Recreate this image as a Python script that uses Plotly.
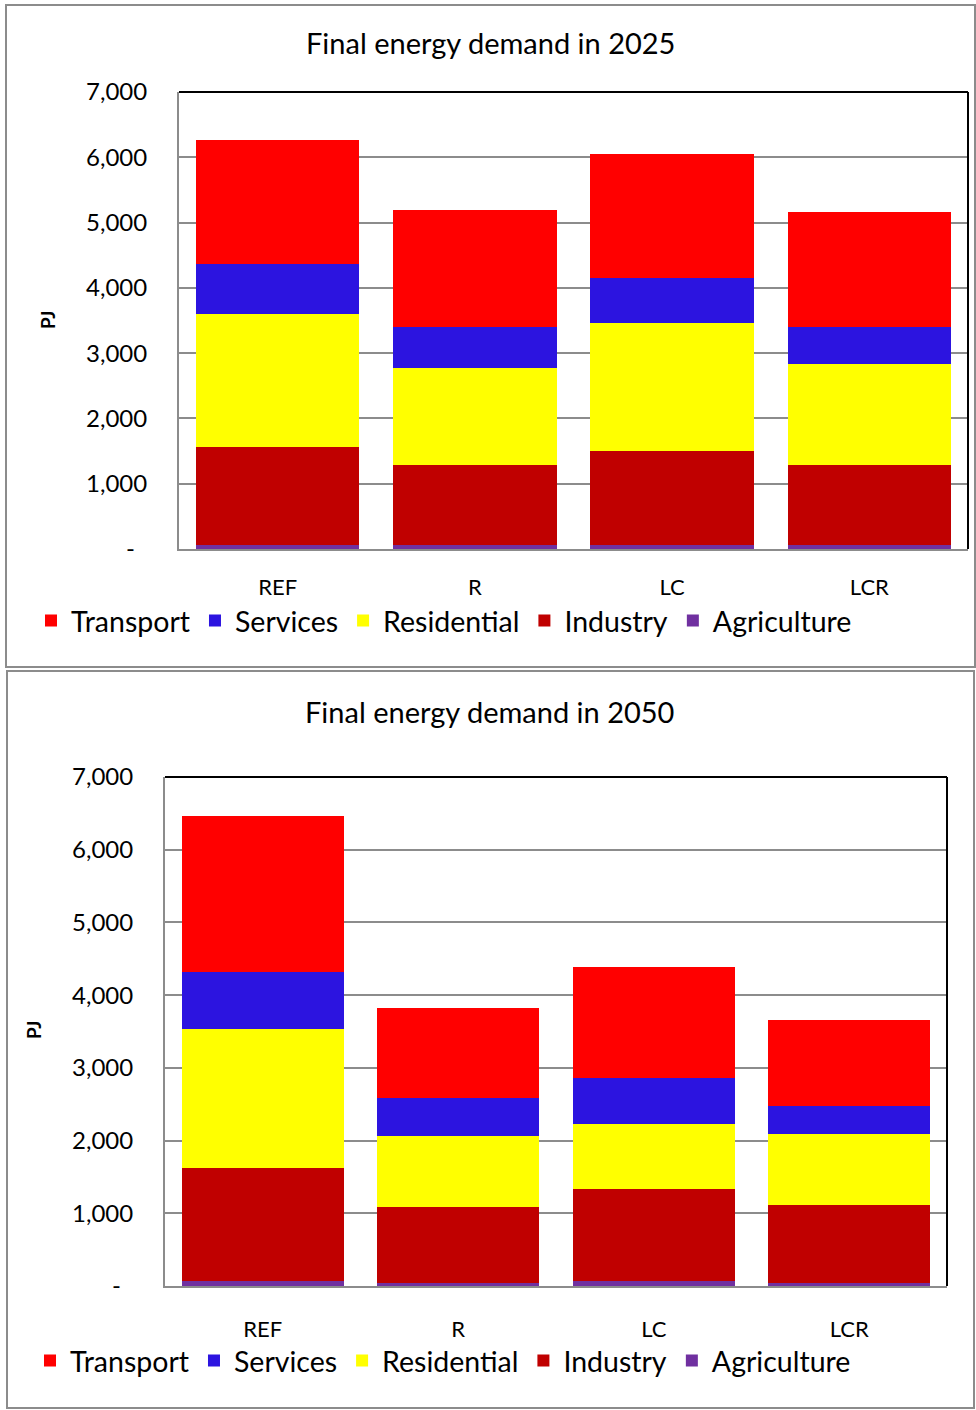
import plotly.graph_objects as go

# ---------------- data ----------------
scenarios = ["REF", "R", "LC", "LCR"]
sectors = ["Agriculture", "Industry", "Residential", "Services", "Transport"]
sector_colors = ["#7030A0", "#C00000", "#FFFF00", "#2C14E0", "#FF0000"]

agriculture_2025 = [61, 61, 60, 60]
industry_2025 = [1494, 1223, 1438, 1224]
residential_2025 = [2040, 1483, 1968, 1544]
services_2025 = [772, 633, 681, 577]
transport_2025 = [1901, 1790, 1902, 1764]

agriculture_2050 = [69, 37, 69, 41]
industry_2050 = [1550, 1054, 1269, 1077]
residential_2050 = [1912, 968, 890, 973]
services_2050 = [792, 523, 637, 385]
transport_2050 = [2138, 1246, 1519, 1187]

tick_vals = [0, 1000, 2000, 3000, 4000, 5000, 6000, 7000]
tick_text = ["-\u00a0\u00a0", "1,000", "2,000", "3,000", "4,000", "5,000", "6,000", "7,000"]

titles = ["Final energy demand in 2025", "Final energy demand in 2050"]
unit = "PJ"

# ---------------- figure ----------------
W, H = 976, 1410
FONT = "Lato, 'Open Sans', sans-serif"


def px(x):
    return x / W


def py(y):
    return 1 - y / H


data_2025 = [agriculture_2025, industry_2025, residential_2025, services_2025, transport_2025]
data_2050 = [agriculture_2050, industry_2050, residential_2050, services_2050, transport_2050]

fig = go.Figure()
for name, col, vals in zip(sectors, sector_colors, data_2025):
    fig.add_trace(go.Bar(x=scenarios, y=vals, name=name, marker_color=col,
                         marker_line_width=0, xaxis="x", yaxis="y", legend="legend"))
for name, col, vals in zip(sectors, sector_colors, data_2050):
    fig.add_trace(go.Bar(x=scenarios, y=vals, name=name, marker_color=col,
                         marker_line_width=0, xaxis="x2", yaxis="y2", legend="legend2"))

grid_col = "#8c8c8c"
axis_col = "#8c8c8c"
ytick_font = dict(family=FONT, size=24, color="#000000")
xtick_font = dict(family=FONT, size=22, color="#000000")

yaxis_common = dict(range=[0, 7000], tickvals=tick_vals, ticktext=tick_text,
                    showgrid=True, gridcolor=grid_col, gridwidth=2, zeroline=False,
                    showline=True, linecolor=axis_col, linewidth=2, ticks="",
                    tickfont=ytick_font, ticklabelstandoff=25, fixedrange=True,
                    automargin=False)
xaxis_common = dict(showgrid=False, zeroline=False, showline=True, linecolor=axis_col,
                    linewidth=2, ticks="", tickfont=xtick_font, fixedrange=True,
                    automargin=False)

legend_common = dict(orientation="h", font=dict(family=FONT, size=28.5, color="#000000"),
                     traceorder="reversed", bgcolor="rgba(0,0,0,0)", xanchor="left",
                     yanchor="middle", itemclick=False, itemdoubleclick=False,
                     tracegroupgap=0)

fig.update_layout(
    width=W, height=H,
    margin=dict(l=0, r=0, t=0, b=0, pad=0, autoexpand=False),
    paper_bgcolor="#ffffff", plot_bgcolor="#ffffff",
    barmode="stack", bargap=0.17,
    font=dict(family=FONT, color="#000000"),
    xaxis=dict(domain=[px(179), px(968)], anchor="y", ticklabelstandoff=18, **xaxis_common),
    yaxis=dict(domain=[py(549), py(92)], anchor="x", **yaxis_common),
    xaxis2=dict(domain=[px(165), px(947)], anchor="y2", ticklabelstandoff=23, **xaxis_common),
    yaxis2=dict(domain=[py(1286), py(777)], anchor="x2", **yaxis_common),
    legend=dict(x=px(31), y=py(621), **legend_common),
    legend2=dict(x=px(30), y=py(1361), **legend_common),
    showlegend=True,
)

shapes = []
# panel frames
shapes.append(dict(type="rect", xref="paper", yref="paper", x0=px(6), x1=px(975), y0=py(667), y1=py(5),
                   line=dict(color="#8c8c8c", width=2), fillcolor="rgba(0,0,0,0)", layer="below"))
shapes.append(dict(type="rect", xref="paper", yref="paper", x0=px(7), x1=px(974), y0=py(1408), y1=py(671),
                   line=dict(color="#8c8c8c", width=2), fillcolor="rgba(0,0,0,0)", layer="below"))
# plot-area top and right borders (black)
for xa, ya in (("x", "y"), ("x2", "y2")):
    shapes.append(dict(type="line", xref=f"{xa} domain", yref=f"{ya} domain", x0=0, x1=1, y0=1, y1=1,
                       line=dict(color="#000000", width=2), layer="above"))
    shapes.append(dict(type="line", xref=f"{xa} domain", yref=f"{ya} domain", x0=1, x1=1, y0=0, y1=1,
                       line=dict(color="#000000", width=2), layer="above"))
fig.update_layout(shapes=shapes)

annotations = [
    dict(text=titles[0], x=px(490), y=py(42), xref="paper", yref="paper", showarrow=False,
         xanchor="center", yanchor="middle", font=dict(family=FONT, size=29, color="#000000")),
    dict(text=titles[1], x=px(489), y=py(711), xref="paper", yref="paper", showarrow=False,
         xanchor="center", yanchor="middle", font=dict(family=FONT, size=29, color="#000000")),
    dict(text="<b>" + unit + "</b>", x=px(47), y=py(320), xref="paper", yref="paper", showarrow=False,
         textangle=-90, xanchor="center", yanchor="middle", font=dict(family=FONT, size=19, color="#000000")),
    dict(text="<b>" + unit + "</b>", x=px(33), y=py(1030), xref="paper", yref="paper", showarrow=False,
         textangle=-90, xanchor="center", yanchor="middle", font=dict(family=FONT, size=19, color="#000000")),
]
fig.update_layout(annotations=annotations)

fig.write_html("out.html", config={"displayModeBar": False},
               post_script="document.body.style.margin='0';document.body.style.padding='0';")
